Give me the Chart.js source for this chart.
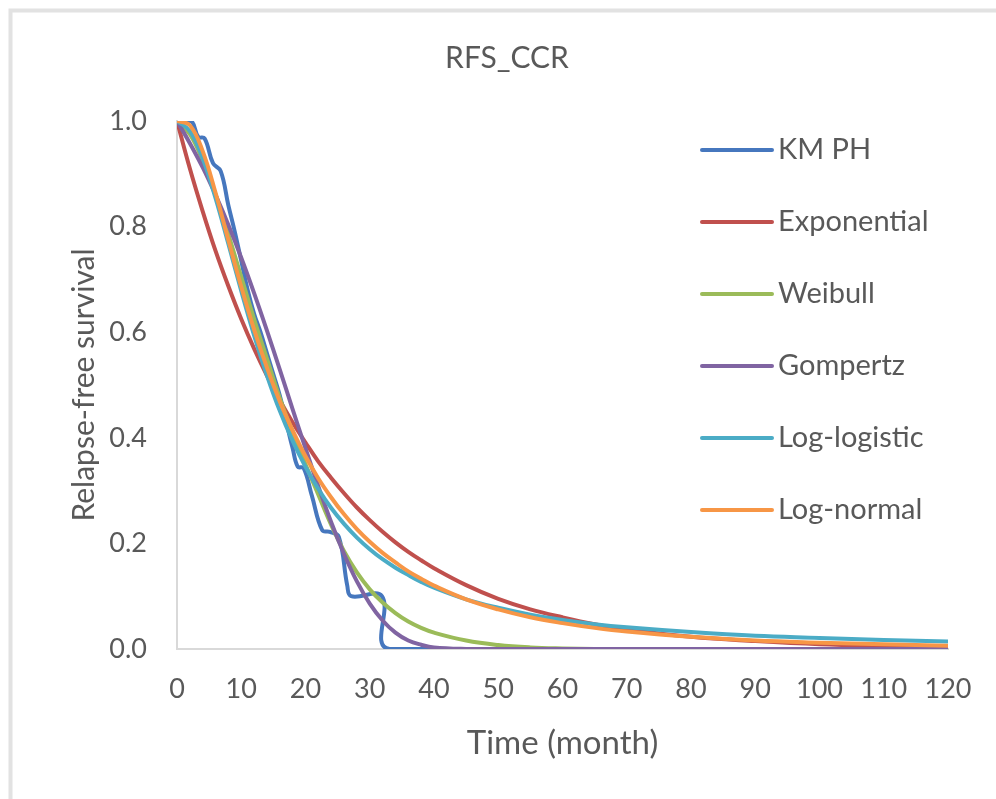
<!DOCTYPE html>
<html>
<head>
<meta charset="utf-8">
<title>RFS_CCR</title>
<script src="https://cdn.jsdelivr.net/npm/chart.js@4.4.1/dist/chart.umd.min.js"></script>
<style>
  html, body { margin: 0; padding: 0; background: #ffffff; }
  #wrap { position: relative; width: 996px; height: 799px; }
</style>
</head>
<body>
<div id="wrap"><canvas id="rfsChart" width="996" height="799"></canvas></div>
<script>
// time grid (months) shared by the fitted curves
var months = [0, 2, 4, 6, 8, 10, 12, 14, 16, 18, 20, 22, 24, 26, 28, 30, 32, 34, 36, 38, 40,
              45, 50, 55, 60, 65, 70, 80, 90, 100, 110, 120];

var exponential = [1.0, 0.910, 0.829, 0.754, 0.687, 0.625, 0.569, 0.518, 0.471, 0.429, 0.391,
                   0.355, 0.324, 0.295, 0.268, 0.244, 0.222, 0.202, 0.184, 0.168, 0.153,
                   0.121, 0.095, 0.075, 0.060, 0.047, 0.037, 0.023, 0.015, 0.009, 0.006, 0.004];
var weibull = [1.0, 0.975, 0.925, 0.860, 0.785, 0.705, 0.625, 0.550, 0.475, 0.410, 0.350,
               0.292, 0.235, 0.185, 0.145, 0.113, 0.088, 0.068, 0.052, 0.040, 0.031,
               0.016, 0.0075, 0.003, 0.001, 0, 0, 0, 0, 0, 0, 0];
var gompertz = [1.0, 0.958, 0.912, 0.860, 0.803, 0.741, 0.674, 0.603, 0.529, 0.454, 0.380,
                0.308, 0.240, 0.180, 0.128, 0.086, 0.054, 0.031, 0.016, 0.008, 0.003,
                0.0002, 0, 0, 0, 0, 0, 0, 0, 0, 0, 0];
var logLogistic = [1.0, 0.981, 0.929, 0.854, 0.767, 0.678, 0.594, 0.518, 0.451, 0.394, 0.345,
                   0.303, 0.267, 0.237, 0.211, 0.189, 0.170, 0.154, 0.140, 0.127, 0.116,
                   0.094, 0.078, 0.065, 0.055, 0.047, 0.041, 0.032, 0.025, 0.021, 0.017, 0.014];
var logNormal = [1.0, 0.992, 0.943, 0.864, 0.774, 0.686, 0.605, 0.533, 0.469, 0.414, 0.365,
                 0.323, 0.287, 0.255, 0.227, 0.203, 0.182, 0.164, 0.147, 0.133, 0.120,
                 0.094, 0.075, 0.060, 0.049, 0.040, 0.033, 0.023, 0.016, 0.012, 0.009, 0.006];

// Kaplan-Meier estimate has its own event times
var kmMonths = [0, 2.2, 3.3, 4.3, 5.6, 6.8, 8, 9, 10, 11, 12, 13, 14, 15, 16, 17, 18, 18.8, 19.7,
                21, 22.6, 23.8, 25.2, 26.5, 27.1, 31.9, 33.1, 120];
var kmPH = [1.0, 1.0, 0.970, 0.967, 0.920, 0.905, 0.840, 0.790, 0.735, 0.680, 0.635, 0.600, 0.560,
            0.520, 0.480, 0.430, 0.380, 0.345, 0.343, 0.290, 0.225, 0.222, 0.212, 0.120, 0.100,
            0.100, 0, 0];

var seriesNames = ['KM PH', 'Exponential', 'Weibull', 'Gompertz', 'Log-logistic', 'Log-normal'];
var seriesColors = ['#4677BE', '#C0504D', '#9BBB59', '#8064A2', '#4BACC6', '#F79646'];

var textColor = '#595959';
var fontFamily = 'Lato, "Open Sans", sans-serif';

function toPoints(xs, ys) {
    var pts = [];
    for (var i = 0; i < xs.length; i++) {
        pts.push({ x: xs[i], y: ys[i] });
    }
    return pts;
}

var curves = [kmPH, exponential, weibull, gompertz, logLogistic, logNormal];
var datasets = [];
for (var i = 0; i < curves.length; i++) {
    datasets.push({
        label: seriesNames[i],
        data: i === 0 ? toPoints(kmMonths, kmPH) : toPoints(months, curves[i]),
        borderColor: seriesColors[i],
        backgroundColor: seriesColors[i],
        borderWidth: 4,
        pointRadius: 0,
        tension: 0.4,
        fill: false,
        // later series sit on top, KM at the bottom
        order: curves.length - i
    });
}

// thin frame round the chart
var framePlugin = {
    id: 'frame',
    beforeDraw: function(chart) {
        var ctx = chart.ctx;
        ctx.save();
        ctx.strokeStyle = '#e2e2e2';
        ctx.lineWidth = 4;
        ctx.beginPath();
        ctx.moveTo(10.5, 799);
        ctx.lineTo(10.5, 10.5);
        ctx.lineTo(996, 10.5);
        ctx.stroke();
        ctx.restore();
    }
};

// legend drawn inside the plot on the right
var sideLegend = {
    id: 'sideLegend',
    afterDatasetsDraw: function(chart, args, opts) {
        var ctx = chart.ctx;
        ctx.save();
        ctx.font = opts.fontSize + 'px ' + fontFamily;
        ctx.textBaseline = 'middle';
        ctx.textAlign = 'left';
        chart.data.datasets.forEach(function(ds, i) {
            var y = opts.top + i * opts.spacing;
            ctx.strokeStyle = ds.borderColor;
            ctx.lineWidth = 4;
            ctx.lineCap = 'round';
            ctx.beginPath();
            ctx.moveTo(opts.x, y);
            ctx.lineTo(opts.x + opts.lineLength, y);
            ctx.stroke();
            ctx.fillStyle = textColor;
            ctx.fillText(ds.label, opts.x + opts.lineLength + 6, y);
        });
        ctx.restore();
    }
};

new Chart(document.getElementById('rfsChart'), {
    type: 'line',
    data: { datasets: datasets },
    plugins: [framePlugin, sideLegend],
    options: {
        responsive: false,
        animation: false,
        layout: { padding: { left: 66, right: 48, top: 0, bottom: 0 } },
        plugins: {
            legend: { display: false },
            tooltip: { enabled: false },
            title: {
                display: true,
                text: 'RFS_CCR',
                color: textColor,
                font: { family: fontFamily, size: 30, weight: 'normal' },
                padding: { top: 40, bottom: 45 }
            },
            sideLegend: { x: 702, lineLength: 70, top: 150, spacing: 72, fontSize: 29 }
        },
        scales: {
            x: {
                type: 'linear',
                min: 0,
                max: 120,
                grid: { display: false, drawTicks: false },
                border: { display: true, color: '#d9d9d9', width: 2 },
                ticks: {
                    stepSize: 10,
                    color: textColor,
                    padding: 24,
                    maxRotation: 0,
                    font: { family: fontFamily, size: 27 }
                },
                title: {
                    display: true,
                    text: 'Time (month)',
                    color: textColor,
                    font: { family: fontFamily, size: 33 },
                    padding: { top: 0, bottom: 36 }
                },
                afterFit: function(scale) { scale.height = 150; }
            },
            y: {
                min: 0,
                max: 1,
                grid: { display: false, drawTicks: false },
                border: { display: true, color: '#d9d9d9', width: 2 },
                ticks: {
                    stepSize: 0.2,
                    color: textColor,
                    padding: 30,
                    font: { family: fontFamily, size: 27 },
                    callback: function(v) { return v.toFixed(1); }
                },
                title: {
                    display: true,
                    text: 'Relapse-free survival',
                    color: textColor,
                    font: { family: fontFamily, size: 30 },
                    padding: { top: 0, bottom: 0 }
                },
                afterFit: function(scale) { scale.width = 111; }
            }
        }
    }
});
</script>
</body>
</html>
